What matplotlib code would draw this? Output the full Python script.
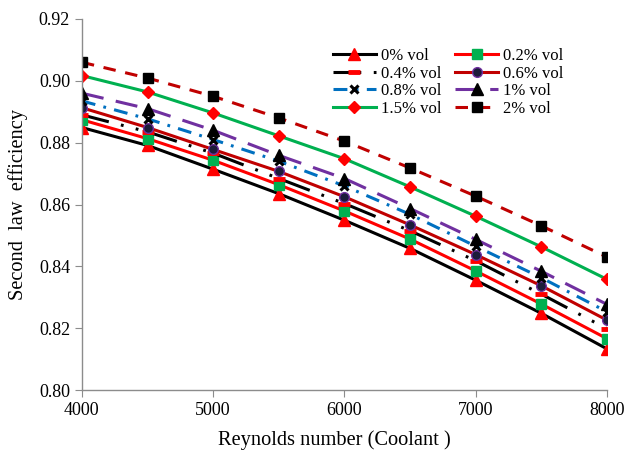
import matplotlib
matplotlib.use("Agg")
import matplotlib.pyplot as plt

plt.rcParams['font.family'] = ['Liberation Serif', 'DejaVu Serif']
plt.rcParams['lines.scale_dashes'] = False

# Reynolds number (coolant) and second law efficiency per nanofluid concentration
re = [4000, 4500, 5000, 5500, 6000, 6500, 7000, 7500, 8000]
eff_0 = [0.8849, 0.8791, 0.8714, 0.8635, 0.8549, 0.8458, 0.8355, 0.8248, 0.8133]
eff_02 = [0.8874, 0.8813, 0.8743, 0.8664, 0.8579, 0.8488, 0.8385, 0.8278, 0.8166]
eff_04 = [0.8890, 0.8835, 0.8766, 0.8684, 0.8603, 0.8515, 0.8418, 0.8310, 0.8198]
eff_06 = [0.8913, 0.8849, 0.8778, 0.8707, 0.8625, 0.8534, 0.8438, 0.8337, 0.8226]
eff_08 = [0.8935, 0.8877, 0.8810, 0.8740, 0.8660, 0.8568, 0.8465, 0.8363, 0.8253]
eff_1 = [0.8960, 0.8910, 0.8840, 0.8759, 0.8684, 0.8587, 0.8487, 0.8384, 0.8277]
eff_15 = [0.9017, 0.8964, 0.8896, 0.8822, 0.8748, 0.8657, 0.8562, 0.8463, 0.8358]
eff_2 = [0.9060, 0.9009, 0.8950, 0.8880, 0.8805, 0.8718, 0.8627, 0.8531, 0.8430]

fig = plt.figure(figsize=(6.3, 4.5), dpi=100)
ax = fig.add_axes([0.130, 0.1333, 0.8335, 0.8245])

lw = 2.2
h = {}
h['0% vol'], = ax.plot(re, eff_0, color='black', lw=lw, marker='^', ms=8,
                       mfc='red', mec='red')
h['0.2% vol'], = ax.plot(re, eff_02, color='red', lw=lw, marker='s', ms=7,
                         mfc='#00B050', mec='#00B050')
h['0.4% vol'], = ax.plot(re, eff_04, color='black', lw=lw,
                         ls=(0, (20, 9, 2, 9, 2, 9)),
                         marker='_', ms=9, mew=3.5, mec='red')
h['0.6% vol'], = ax.plot(re, eff_06, color='#C00000', lw=lw, marker='o', ms=7,
                         mfc='#1C1C3A', mec='#7030A0', mew=1)
h['0.8% vol'], = ax.plot(re, eff_08, color='#0070C0', lw=lw,
                         ls=(0, (10, 6, 2, 6)),
                         marker='x', ms=6, mew=2.2, mec='black')
h['1% vol'], = ax.plot(re, eff_1, color='#7030A0', lw=lw, ls=(0, (16, 9)),
                       marker='^', ms=8, mfc='black', mec='black')
h['1.5% vol'], = ax.plot(re, eff_15, color='#00B050', lw=lw, marker='D', ms=6.5,
                         mfc='red', mec='red')
h['2% vol'], = ax.plot(re, eff_2, color='#C00000', lw=lw, ls=(0, (9, 7)),
                       marker='s', ms=7.5, mfc='black', mec='black')

ax.set_xlim(4000, 8000)
ax.set_ylim(0.80, 0.92)
ax.set_xticks([4000, 5000, 6000, 7000, 8000])
ax.set_yticks([0.80, 0.82, 0.84, 0.86, 0.88, 0.90, 0.92])
ax.yaxis.set_major_formatter(matplotlib.ticker.FormatStrFormatter('%.2f'))

for s in ['top', 'right']:
    ax.spines[s].set_visible(False)
for s in ['left', 'bottom']:
    ax.spines[s].set_color('#8C8C8C')
    ax.spines[s].set_linewidth(1)
ax.tick_params(direction='out', length=5, color='#8C8C8C', labelsize=13)

ax.set_xlabel('Reynolds number (Coolant )', fontsize=14.7)
ax.xaxis.set_label_coords(0.48, -0.108)
ax.set_ylabel('Second  law  efficiency', fontsize=14.7, labelpad=8)

order = ['0% vol', '0.4% vol', '0.8% vol', '1.5% vol',
         '0.2% vol', '0.6% vol', '1% vol', '2% vol']
ax.legend([h[k] for k in order], order, ncol=2, frameon=False, fontsize=12,
          numpoints=1, handlelength=2.6, handletextpad=0.3, columnspacing=0.8,
          labelspacing=0.1, loc='upper left', bbox_to_anchor=(0.465, 0.94),
          borderaxespad=0)

fig.savefig('out.png', dpi=100)
